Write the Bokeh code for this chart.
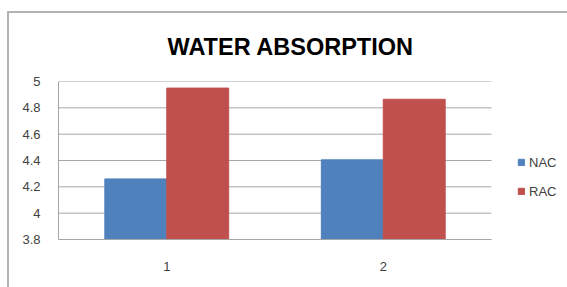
from bokeh.plotting import figure
from bokeh.layouts import column
from bokeh.models import (ColumnDataSource, Range1d, Legend, LegendItem, FixedTicker)
from bokeh.embed import file_html
from bokeh.resources import INLINE

categories = ["1", "2"]
nac = [4.26, 4.405]
rac = [4.95, 4.865]
series_names = ["NAC", "RAC"]
title_text = "WATER ABSORPTION"
y_ticks = [3.8, 4.0, 4.2, 4.4, 4.6, 4.8, 5.0]
y_labels = ["3.8", "4", "4.2", "4.4", "4.6", "4.8", "5"]

# category slots: category i occupies [i, i+1] on a numeric axis
n = len(categories)
centers = [i + 0.5 for i in range(n)]
bar_w = 0.286

src = ColumnDataSource(data=dict(
    x_nac=[c - bar_w / 2 for c in centers],
    x_rac=[c + bar_w / 2 for c in centers],
    nac=nac, rac=rac))

p = figure(width=558, height=274, output_backend="svg", toolbar_location=None,
           x_range=Range1d(0, n * 509 / 433), y_range=Range1d(y_ticks[0], y_ticks[-1]),
           min_border_left=49, min_border_right=0, min_border_top=66, min_border_bottom=48,
           title=title_text)
p.margin = 0
p.outline_line_color = None
p.background_fill_color = "white"
p.border_fill_color = "white"

p.title.align = "left"
p.title.vertical_align = "top"
p.title.offset = 109
p.title.standoff = 40
p.title.text_font = "Liberation Sans"
p.title.text_font_style = "bold"
p.title.text_font_size = "23.5px"
p.title.text_color = "#000000"

grid_col = "#a6a6a6"
p.xgrid.grid_line_color = None
p.ygrid.grid_line_color = None
# horizontal gridlines across the category slots only
p.segment(x0=0, x1=n, y0=y_ticks, y1=y_ticks, line_color=grid_col, line_width=1)

r1 = p.vbar(x="x_nac", top="nac", bottom=y_ticks[0], width=bar_w,
            source=src, fill_color="#4f81bd", line_color="#4f81bd")
r2 = p.vbar(x="x_rac", top="rac", bottom=y_ticks[0], width=bar_w,
            source=src, fill_color="#c0504d", line_color="#c0504d")

p.yaxis.ticker = FixedTicker(ticks=y_ticks)
p.yaxis.major_label_overrides = dict(zip(y_ticks, y_labels))
p.xaxis.ticker = FixedTicker(ticks=centers)
p.xaxis.major_label_overrides = dict(zip(centers, categories))
p.xaxis.bounds = (0, n)
for ax in (p.xaxis[0], p.yaxis[0]):
    ax.axis_line_color = grid_col
    ax.major_tick_line_color = None
    ax.minor_tick_line_color = None
    ax.major_label_text_font = "Liberation Sans"
    ax.major_label_text_color = "#404040"
p.yaxis.major_label_text_font_size = "13px"
p.yaxis.major_label_standoff = 12
p.xaxis.major_label_text_font_size = "13px"
p.xaxis.major_label_standoff = 16

legend = Legend(items=[LegendItem(label=series_names[0], renderers=[r1]),
                       LegendItem(label=series_names[1], renderers=[r2])],
                location=(459, 38), glyph_width=8, glyph_height=8, label_standoff=4,
                spacing=9, label_height=20, padding=0, margin=0,
                border_line_color=None, background_fill_alpha=0,
                label_text_font="Liberation Sans", label_text_font_size="13px",
                label_text_color="#404040")
p.add_layout(legend)

root = column(p, margin=(11, 0, 0, 7),
              styles={"border-left": "2px solid #b3b3b3", "border-top": "2px solid #b3b3b3"})

open("out.html", "w").write(file_html(root, INLINE))
